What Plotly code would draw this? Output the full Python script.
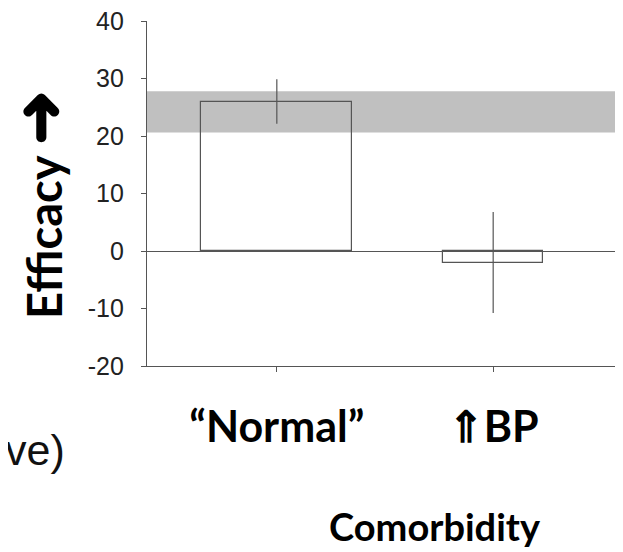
import plotly.graph_objects as go

# ---- data ----
categories = ["<b>“Normal”</b>", "<b>⇑BP</b>"]
efficacy = [26.0, -2.0]
error = [3.85, 8.8]
band_low = 20.6
band_high = 27.8
y_ticks = [-20, -10, 0, 10, 20, 30, 40]
y_tick_text = ["-20", "-10", "0", "10", "20", "30", "40"]

# ---- layout constants (figure pixels; page body has 8px margin) ----
W, H = 615, 544
L, R, T, B = 139, 0, 13, 186
PW, PH = W - L - R, H - T - B


def px(x):
    return (x - L) / PW


def py(y):
    return (H - B - y) / PH


AXIS_COLOR = "#555555"
fig = go.Figure()
fig.add_trace(go.Bar(
    x=[0, 1], y=efficacy, width=[0.698, 0.465],
    marker=dict(color="rgba(0,0,0,0)", line=dict(color=AXIS_COLOR, width=1.2)),
    error_y=dict(type="data", array=error, visible=True, color=AXIS_COLOR, thickness=1.2, width=0),
    showlegend=False, hoverinfo="skip",
))

fig.add_shape(type="rect", xref="paper", yref="y", x0=0, x1=1, y0=band_low, y1=band_high,
              fillcolor="#c0c0c0", line=dict(width=0), layer="below")

fig.update_layout(
    width=W, height=H, margin=dict(l=L, r=R, t=T, b=B, pad=0),
    plot_bgcolor="white", paper_bgcolor="white",
    bargap=0,
    xaxis=dict(range=[-0.6, 1.6], tickvals=[0, 1], ticktext=categories,
               showgrid=False, zeroline=False, showline=True, linecolor=AXIS_COLOR, linewidth=1.2,
               ticks="outside", ticklen=5, tickcolor=AXIS_COLOR, ticklabelstandoff=18,
               tickfont=dict(family="Lato", size=43, color="#000000"), fixedrange=True),
    yaxis=dict(range=[-20, 40], tickvals=y_ticks, ticktext=y_tick_text, showgrid=False,
               zeroline=True, zerolinecolor=AXIS_COLOR, zerolinewidth=1.2,
               showline=True, linecolor=AXIS_COLOR, linewidth=1.2,
               ticks="outside", ticklen=5, tickcolor=AXIS_COLOR, ticklabelstandoff=12,
               ticklabeloverflow="allow",
               tickfont=dict(family="Liberation Sans, Arial", size=25, color="#222222"), fixedrange=True),
    annotations=[
        dict(text="<b>Efficacy <span style='font-size:66px'>➜</span></b>", textangle=-90,
             xref="paper", yref="paper",
             x=px(28), y=py(197), xanchor="center", yanchor="middle", showarrow=False,
             font=dict(family="Lato", size=47, color="#000000")),
        dict(text="ve)", xref="paper", yref="paper", x=px(59), y=py(468),
             xanchor="right", yanchor="bottom", showarrow=False,
             font=dict(family="Liberation Sans, Arial", size=43, color="#111111")),
        dict(text="<b>Comorbidity</b>", xref="paper", yref="paper", x=px(427), y=py(518),
             xanchor="center", yanchor="middle", showarrow=False,
             font=dict(family="Lato", size=38, color="#000000")),
    ],
)

fig.write_html("out.html")
